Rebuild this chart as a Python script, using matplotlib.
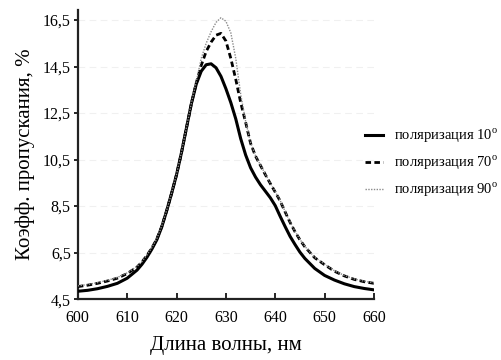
import matplotlib
matplotlib.use("Agg")
import matplotlib.pyplot as plt

plt.rcParams["font.family"] = ["Liberation Serif", "DejaVu Serif"]
plt.rcParams["mathtext.fontset"] = "custom"
plt.rcParams["mathtext.rm"] = "Liberation Serif"

# Wavelength grid, nm
wavelength = [600, 602, 604, 606, 608, 610, 612, 613, 614, 615, 616, 617, 618,
              619, 620, 621, 622, 623, 624, 625, 626, 627, 628, 629, 630, 631,
              632, 633, 634, 635, 636, 637, 638, 639, 640, 641, 642, 643, 644,
              645, 646, 648, 650, 652, 654, 656, 658, 660]

# Transmission coefficient, %
pol_10 = [4.84, 4.88, 4.95, 5.05, 5.18, 5.40, 5.75, 6.00, 6.30, 6.65, 7.05, 7.60, 8.30,
          9.05, 9.85, 10.80, 11.85, 12.90, 13.75, 14.30, 14.58, 14.62, 14.45, 14.08, 13.55, 12.95,
          12.25, 11.40, 10.70, 10.15, 9.75, 9.42, 9.14, 8.86, 8.52, 8.06, 7.62, 7.20, 6.85,
          6.52, 6.25, 5.82, 5.52, 5.32, 5.16, 5.04, 4.96, 4.90]

pol_70 = [5.04, 5.10, 5.18, 5.28, 5.40, 5.60, 5.88, 6.10, 6.38, 6.70, 7.08, 7.62, 8.30,
          9.05, 9.85, 10.80, 11.85, 12.90, 13.80, 14.55, 15.15, 15.55, 15.85, 15.93, 15.60, 14.85,
          13.95, 12.95, 12.10, 11.20, 10.65, 10.25, 9.85, 9.47, 9.10, 8.72, 8.25, 7.80, 7.40,
          7.05, 6.75, 6.28, 5.98, 5.70, 5.50, 5.35, 5.25, 5.18]

pol_90 = [5.07, 5.13, 5.21, 5.31, 5.43, 5.63, 5.91, 6.12, 6.40, 6.72, 7.10, 7.64, 8.32,
          9.07, 9.87, 10.82, 11.87, 12.92, 13.85, 14.85, 15.50, 16.00, 16.40, 16.60, 16.45, 15.95,
          14.85, 13.30, 12.15, 11.22, 10.67, 10.27, 9.87, 9.49, 9.12, 8.74, 8.27, 7.82, 7.42,
          7.07, 6.77, 6.30, 6.00, 5.72, 5.52, 5.37, 5.27, 5.20]

legend_labels = ["поляризация 10$^{\\mathregular{o}}$",
                 "поляризация 70$^{\\mathregular{o}}$",
                 "поляризация 90$^{\\mathregular{o}}$"]

x_ticks = [600, 610, 620, 630, 640, 650, 660]
y_ticks = [4.5, 6.5, 8.5, 10.5, 12.5, 14.5, 16.5]
y_tick_labels = ["4,5", "6,5", "8,5", "10,5", "12,5", "14,5", "16,5"]

fig = plt.figure(figsize=(5.02, 3.60), dpi=100)
ax = fig.add_axes([0.155, 0.169, 0.590, 0.803])

ax.plot(wavelength, pol_10, color="black", lw=2.2, label=legend_labels[0], zorder=3)
ax.plot(wavelength, pol_70, color="black", lw=2.0, linestyle=(0, (2.0, 1.2)),
        label=legend_labels[1], zorder=4)
ax.plot(wavelength, pol_90, color="#8a8a8a", lw=1.0, linestyle=(0, (1, 1)),
        label=legend_labels[2], zorder=5)

ax.set_xlim(600, 660)
ax.set_ylim(4.5, 16.93)
ax.set_xticks(x_ticks)
ax.set_yticks(y_ticks)
ax.set_yticklabels(y_tick_labels)

ax.grid(axis="y", color="#f0f0f0", lw=0.8, linestyle=(0, (6, 4)))
ax.set_axisbelow(True)

for side in ("top", "right"):
    ax.spines[side].set_visible(False)
for side in ("left", "bottom"):
    ax.spines[side].set_linewidth(1.6)
    ax.spines[side].set_color("#222222")

ax.tick_params(axis="x", direction="in", length=4, width=1.2, labelsize=11.5, pad=8)
ax.tick_params(axis="y", direction="out", length=3, width=1.2, labelsize=11.5, pad=2)

ax.set_xlabel("Длина волны, нм", fontsize=15, labelpad=7)
ax.set_ylabel("Коэфф. пропускания, %", fontsize=15, labelpad=6)

fig.legend(loc="center left", bbox_to_anchor=(0.70, 0.548), frameon=False,
           fontsize=10.5, handlelength=1.3, handletextpad=0.7, labelspacing=0.6)

fig.savefig("out.png", dpi=100)
